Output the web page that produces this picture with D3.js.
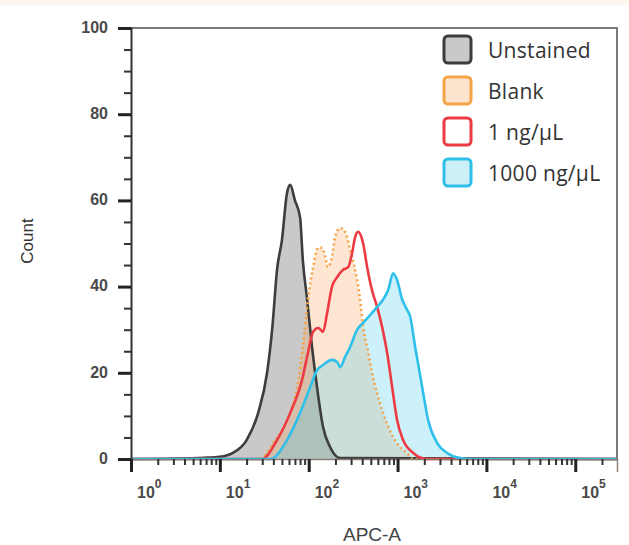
<!DOCTYPE html>
<html>
<head>
<meta charset="utf-8">
<title>APC-A histogram</title>
<style>
	body{ margin:0; background:#fff; }
	svg text{ font-family:"Liberation Sans", Arial, sans-serif; fill:#333; }
	.legend text{ font-family:"Open Sans", sans-serif; }
</style>
</head>
<body>
<div id="chart"></div>
<script src="https://cdn.jsdelivr.net/npm/d3@7/dist/d3.min.js"></script>
<script>
// histogram values: [APC-A, count]
var unstained = [[1,0],[6.8,0.3],[10,0.5],[14,1.4],[20,4.4],[27,10.7],[34,20],[39,30.6],[44,43.9],
	[50,50.8],[57,61.7],[62,63.6],[70,60],[80,56],[86,46],[96,37],[109,26],[124,16.7],[145,7.4],
	[174,2.8],[226,0.2],[295000,0]];
var blank = [[1,0],[28,0],[40,3.7],[57,9],[74,16.7],[86,26],[98,37],[112,44.5],[128,49],[142,49],
	[153,47],[165,44.5],[183,47],[198,51.5],[226,53.6],[257,52.7],[293,48.5],[333,43.9],[379,37],
	[410,30.6],[455,26],[518,20],[589,15.3],[688,10.7],[892,5.1],[1069,2.8],[1282,1.4],[1500,0],[295000,0]];
var ng1 = [[1,0],[30,0],[44,4.4],[62,10.7],[84,18.3],[98,24.6],[112,29.5],[128,30.4],[145,29.5],
	[161,33.8],[183,40],[209,42.2],[244,43.9],[278,44.5],[308,47.8],[333,51.5],[360,52.7],[410,50],
	[455,44.5],[518,39],[589,35.3],[671,30.6],[764,24.6],[869,16.7],[989,9],[1156,4.4],[1500,1.4],
	[2150,0],[295000,0]];
var ng1000 = [[1,0],[37,0],[57,4.4],[80,10.7],[104,16.7],[124,20.6],[145,21.8],[183,23],[209,22.5],
	[226,21.3],[257,23.7],[293,26],[351,30],[410,31.6],[491,33.4],[589,35.3],[688,37],[784,39.2],
	[892,43.1],[989,41.5],[1127,37],[1282,34.6],[1387,33],[1578,26],[1892,16.7],[2212,9],[2793,3.7],
	[3622,1.4],[5070,0.2],[6900,0],[295000,0]];

var seriesNames = ['Unstained', 'Blank', '1 ng/\u00b5L', '1000 ng/\u00b5L'];
var yTicks = [0, 20, 40, 60, 80, 100];
var yMinor = [5, 10, 15, 25, 30, 35, 45, 50, 55, 65, 70, 75, 85, 90, 95];
var xDecades = [0, 1, 2, 3, 4, 5];

var series = [unstained, blank, ng1, ng1000];
var strokes = ['#3d3d3d', '#f5a347', '#ec3b43', '#2ec0ea'];
var fills = ['rgba(105,105,105,0.36)', 'rgba(250,165,95,0.28)', 'none', 'rgba(60,200,235,0.26)'];
var boxFills = ['#c9c9c9', '#fde4cf', '#fff', '#cdeff8'];
var dashes = [null, '2,3', null, null];

var W = 629, H = 545;
var svg = d3.select('#chart').append('svg').attr('width', W).attr('height', H);

// faint tint along the top edge of the picture
svg.append('rect').attr('x', 0).attr('y', 0).attr('width', W).attr('height', 5).attr('fill', '#fbf6ee');

var x = d3.scaleLog().domain([1, 295000]).range([131, 617]);
var y = d3.scaleLinear().domain([0, 100]).range([459, 28]);

var area = d3.area()
	.x(function(d){ return x(d[0]); })
	.y0(y(0))
	.y1(function(d){ return y(d[1]); })
	.curve(d3.curveMonotoneX);
var line = d3.line()
	.x(function(d){ return x(d[0]); })
	.y(function(d){ return y(d[1]); })
	.curve(d3.curveMonotoneX);

var plot = svg.append('g');
series.forEach(function(s, i){
	if(fills[i] != 'none'){
		plot.append('path').attr('d', area(s)).attr('fill', fills[i]).attr('stroke', 'none');
	}
});
series.forEach(function(s, i){
	plot.append('path').attr('d', line(s))
		.attr('fill', 'none')
		.attr('stroke', strokes[i])
		.attr('stroke-width', 2.6)
		.attr('stroke-linejoin', 'round')
		.attr('stroke-dasharray', dashes[i]);
});

// frame top and right
svg.append('path')
	.attr('d', 'M' + x.range()[0] + ',' + y(100) + 'H' + x.range()[1] + 'V' + y(0))
	.attr('fill', 'none').attr('stroke', '#7a7a7a').attr('stroke-width', 2);

// y axis
var yAxis = svg.append('g').attr('transform', 'translate(' + x.range()[0] + ',0)')
	.call(d3.axisLeft(y).tickValues(yTicks).tickSize(13).tickFormat(''));
yAxis.select('.domain').attr('stroke', '#333').attr('stroke-width', 2);
yAxis.selectAll('.tick line').attr('stroke', '#222').attr('stroke-width', 3);
svg.append('g').attr('transform', 'translate(' + x.range()[0] + ',0)')
	.call(d3.axisLeft(y).tickValues(yMinor).tickSize(7).tickFormat(''))
	.call(function(g){ g.select('.domain').remove(); })
	.selectAll('.tick line').attr('stroke', '#333').attr('stroke-width', 2);
svg.selectAll('.ylab').data(yTicks).enter().append('text')
	.attr('class', 'ylab')
	.attr('x', 108)
	.attr('y', function(d){ return y(d); })
	.attr('dy', '0.3em')
	.attr('text-anchor', 'end')
	.style('font-size', '16px')
	.style('font-weight', 'bold')
	.style('fill', '#4a4a4a')
	.text(function(d){ return d; });

// x axis
var xMajor = xDecades.map(function(p){ return Math.pow(10, p); });
var xMinor = [];
xDecades.forEach(function(p){
	for(var k = 2; k <= 9; k++){
		var v = k * Math.pow(10, p);
		if(v <= x.domain()[1]) xMinor.push(v);
	}
});
var xAxis = svg.append('g').attr('transform', 'translate(0,' + y(0) + ')')
	.call(d3.axisBottom(x).tickValues(xMajor).tickSize(13).tickFormat(''));
xAxis.select('.domain').attr('stroke', '#8a8078').attr('stroke-width', 1.5);
xAxis.selectAll('.tick line').attr('stroke', '#222').attr('stroke-width', 3);
svg.append('g').attr('transform', 'translate(0,' + y(0) + ')')
	.call(d3.axisBottom(x).tickValues(xMinor).tickSize(6).tickFormat(''))
	.call(function(g){ g.select('.domain').remove(); })
	.selectAll('.tick line').attr('stroke', '#333').attr('stroke-width', 2);

var xl = svg.selectAll('.xlab').data(xDecades).enter().append('text')
	.attr('class', 'xlab')
	.attr('x', function(d){ return x(Math.pow(10, d)) + 6; })
	.attr('y', 498)
	.style('font-size', '16px')
	.style('font-weight', 'bold')
	.style('fill', '#4a4a4a');
xl.append('tspan').text('10');
xl.append('tspan').attr('dy', -10).style('font-size', '12px').text(function(d){ return d; });

// axis titles
svg.append('text')
	.attr('transform', 'translate(33,241) rotate(-90)')
	.attr('text-anchor', 'middle')
	.style('font-size', '17px')
	.text('Count');
svg.append('text')
	.attr('x', 372).attr('y', 541)
	.attr('text-anchor', 'middle')
	.style('font-size', '19px')
	.style('fill', '#444')
	.text('APC-A');

// legend
var legend = svg.append('g').attr('class', 'legend');
var items = legend.selectAll('g').data(seriesNames).enter().append('g')
	.attr('transform', function(d, i){ return 'translate(444,' + (36 + i * 41) + ')'; });
items.append('rect')
	.attr('width', 27).attr('height', 27).attr('rx', 4)
	.attr('fill', function(d, i){ return boxFills[i]; })
	.attr('stroke', function(d, i){ return strokes[i]; })
	.attr('stroke-width', 3);
items.append('text')
	.attr('x', 44).attr('y', 14).attr('dy', '0.36em')
	.style('font-size', '21px')
	.style('font-weight', 500)
	.style('letter-spacing', '0.3px')
	.style('fill', '#333')
	.text(function(d){ return d; });
</script>
</body>
</html>
